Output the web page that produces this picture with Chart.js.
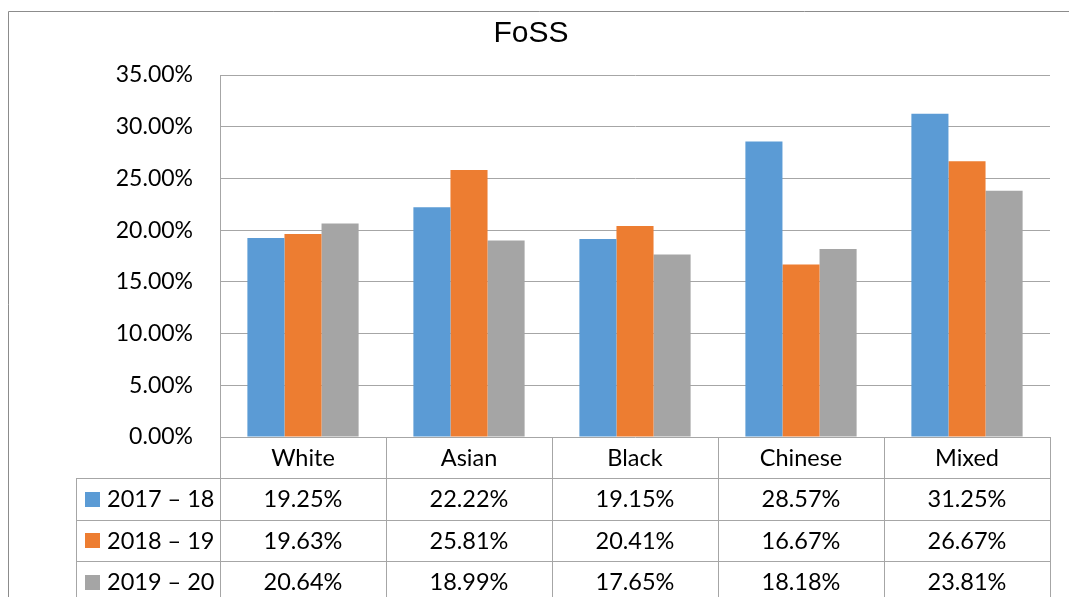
<!DOCTYPE html>
<html>
<head>
<meta charset="utf-8">
<script src="https://cdn.jsdelivr.net/npm/chart.js@4"></script>
<style>
  html, body { margin: 0; padding: 0; background: #fff; }
  #wrap { width: 1069px; height: 597px; }
</style>
</head>
<body>
<div id="wrap"><canvas id="foss" width="1069" height="597"></canvas></div>
<script>
// ===== data =====
const categories = ['White', 'Asian', 'Black', 'Chinese', 'Mixed'];
const seriesNames = ['2017 – 18', '2018 – 19', '2019 – 20'];
const values1718 = [19.25, 22.22, 19.15, 28.57, 31.25];
const values1819 = [19.63, 25.81, 20.41, 16.67, 26.67];
const values1920 = [20.64, 18.99, 17.65, 18.18, 23.81];
const yTicks = [0, 5, 10, 15, 20, 25, 30, 35];

const colors = ['#5B9BD5', '#ED7D31', '#A5A5A5'];
const lineColor = '#a6a6a6';
const textFont = '23.5px Lato, "Open Sans", sans-serif';

// frame + data table under the plot
const tablePlugin = {
  id: 'dataTable',
  afterDraw(chart) {
    const ctx = chart.ctx;
    const area = chart.chartArea;
    const x = chart.scales.x;
    const rowH = 41.5;
    const headerBottom = area.bottom + 41;
    const leftCol = 76;
    const n = categories.length;
    const step = (area.right - area.left) / n;
    const all = [values1718, values1819, values1920];

    ctx.save();
    // outer chart border
    ctx.strokeStyle = '#8c8c8c';
    ctx.lineWidth = 1;
    ctx.beginPath();
    ctx.moveTo(8.5, chart.height + 2);
    ctx.lineTo(8.5, 11.5);
    ctx.lineTo(chart.width + 2, 11.5);
    ctx.stroke();

    ctx.strokeStyle = lineColor;
    ctx.beginPath();
    // vertical category lines
    for (let i = 0; i <= n; i++) {
      const vx = Math.round(area.left + i * step) + 0.5;
      ctx.moveTo(vx, area.bottom);
      ctx.lineTo(vx, chart.height + 2);
    }
    // row lines
    for (let r = 0; r < 3; r++) {
      const hy = Math.round(headerBottom + r * rowH) + 0.5;
      ctx.moveTo(leftCol, hy);
      ctx.lineTo(area.right, hy);
    }
    ctx.moveTo(leftCol + 0.5, headerBottom);
    ctx.lineTo(leftCol + 0.5, chart.height + 2);
    ctx.stroke();

    ctx.font = textFont;
    ctx.fillStyle = '#000';
    ctx.textBaseline = 'middle';
    ctx.textAlign = 'center';
    categories.forEach((c, i) => {
      ctx.fillText(c, x.getPixelForValue(i), (area.bottom + headerBottom) / 2 + 1);
    });
    all.forEach((vals, r) => {
      const cy = headerBottom + r * rowH + rowH / 2 + 1;
      ctx.textAlign = 'center';
      vals.forEach((v, i) => {
        ctx.fillText(v.toFixed(2) + '%', x.getPixelForValue(i), cy);
      });
      ctx.fillStyle = colors[r];
      ctx.fillRect(85, Math.round(cy - 8), 15, 15);
      ctx.fillStyle = '#000';
      ctx.textAlign = 'left';
      ctx.fillText(seriesNames[r], 107, cy);
    });
    ctx.restore();
  }
};

const ctx = document.getElementById('foss').getContext('2d');
new Chart(ctx, {
  type: 'bar',
  data: {
    labels: categories,
    datasets: [
      { label: seriesNames[0], data: values1718, backgroundColor: colors[0] },
      { label: seriesNames[1], data: values1819, backgroundColor: colors[1] },
      { label: seriesNames[2], data: values1920, backgroundColor: colors[2] }
    ]
  },
  options: {
    responsive: false,
    animation: false,
    datasets: { bar: { categoryPercentage: 0.67, barPercentage: 1.0 } },
    layout: { padding: { top: 8, right: 19, bottom: 160, left: 12 } },
    plugins: {
      legend: { display: false },
      tooltip: { enabled: false },
      title: {
        display: true,
        text: 'FoSS',
        color: '#000',
        font: { family: '"Liberation Sans", Arial, sans-serif', size: 30, weight: 'normal', lineHeight: 1.2 },
        padding: { top: 8, bottom: 23 }
      }
    },
    scales: {
      x: { display: false },
      y: {
        min: 0,
        max: 35,
        afterFit(scale) { scale.width = 208; },
        afterBuildTicks(scale) { scale.ticks = yTicks.map(v => ({ value: v })); },
        ticks: {
          padding: 27,
          color: '#000',
          font: { family: 'Lato, "Open Sans", sans-serif', size: 23 },
          callback: v => v.toFixed(2) + '%'
        },
        grid: { color: lineColor, drawTicks: false },
        border: { display: true, color: lineColor }
      }
    }
  },
  plugins: [tablePlugin]
});
</script>
</body>
</html>
